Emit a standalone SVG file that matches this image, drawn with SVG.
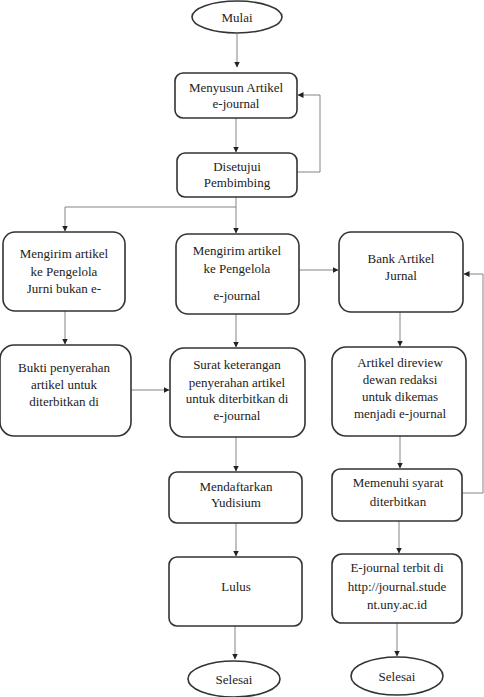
<svg xmlns="http://www.w3.org/2000/svg" width="484" height="697" viewBox="0 0 484 697">
<defs>
<marker id="ah" markerWidth="6" markerHeight="6" refX="5.5" refY="3" orient="auto" markerUnits="userSpaceOnUse">
<path d="M0,0 L6,3 L0,6 Z" fill="#222"/>
</marker>
<style>
.box{fill:#fff;stroke:#333;stroke-width:1.6}
.t{font-family:'Liberation Serif','Times New Roman','DejaVu Serif',serif;font-size:13px;fill:#222;text-anchor:middle}
.c{fill:none;stroke:#777;stroke-width:0.9}
</style>
</defs>
<rect width="484" height="697" fill="#fff"/>
<g id="connectors">
<path class="c" d="M237,34 L237,67" marker-end="url(#ah)"/>
<path class="c" d="M236,118 L236,152" marker-end="url(#ah)"/>
<path class="c" d="M297,172 L320,172 L320,95 L298,95" marker-end="url(#ah)"/>
<path class="c" d="M236,197 L236,233" marker-end="url(#ah)"/>
<path class="c" d="M236,207 L65,207 L65,231" marker-end="url(#ah)"/>
<path class="c" d="M299,270 L338,270" marker-end="url(#ah)"/>
<path class="c" d="M65,311 L65,344" marker-end="url(#ah)"/>
<path class="c" d="M236,314 L236,347" marker-end="url(#ah)"/>
<path class="c" d="M400,312 L400,346" marker-end="url(#ah)"/>
<path class="c" d="M131,390 L169,390" marker-end="url(#ah)"/>
<path class="c" d="M236,437 L236,471" marker-end="url(#ah)"/>
<path class="c" d="M400,436 L400,468" marker-end="url(#ah)"/>
<path class="c" d="M462,493 L483,493 L483,274 L464,274" marker-end="url(#ah)"/>
<path class="c" d="M236,523 L236,556" marker-end="url(#ah)"/>
<path class="c" d="M399,521 L399,553" marker-end="url(#ah)"/>
<path class="c" d="M235,626 L235,659" marker-end="url(#ah)"/>
<path class="c" d="M397,623 L397,656" marker-end="url(#ah)"/>
</g>
<g font-family="Liberation Serif, Times New Roman, serif">
<g id="mulai">
<ellipse class="box" cx="237" cy="17" rx="45" ry="16"/>
<text class="t" x="237" y="22">Mulai</text>
</g>
<g id="menyusun">
<rect class="box" x="175" y="73" width="122" height="45" rx="8"/>
<text class="t" x="236" y="92">Menyusun Artikel</text>
<text class="t" x="236" y="108">e-journal</text>
</g>
<g id="disetujui">
<rect class="box" x="177" y="153" width="120" height="44" rx="8"/>
<text class="t" x="237" y="171">Disetujui</text>
<text class="t" x="237" y="187">Pembimbing</text>
</g>
<g id="mengirim-lain">
<rect class="box" x="3" y="232" width="122" height="79" rx="12"/>
<text class="t" x="64" y="258">Mengirim artikel</text>
<text class="t" x="64" y="276">ke Pengelola</text>
<text class="t" x="64" y="293">Jurni bukan e-</text>
</g>
<g id="mengirim-ejournal">
<rect class="box" x="176" y="234" width="123" height="80" rx="12"/>
<text class="t" x="237" y="255">Mengirim artikel</text>
<text class="t" x="237" y="273">ke Pengelola</text>
<text class="t" x="237" y="300">e-journal</text>
</g>
<g id="bank">
<rect class="box" x="339" y="232" width="124" height="80" rx="12"/>
<text class="t" x="401" y="263">Bank Artikel</text>
<text class="t" x="401" y="280">Jurnal</text>
</g>
<g id="bukti">
<rect class="box" x="0" y="345" width="131" height="91" rx="14"/>
<text class="t" x="64" y="372">Bukti penyerahan</text>
<text class="t" x="64" y="389">artikel untuk</text>
<text class="t" x="64" y="406">diterbitkan di</text>
</g>
<g id="surat">
<rect class="box" x="170" y="348" width="135" height="89" rx="14"/>
<text class="t" x="237" y="369">Surat keterangan</text>
<text class="t" x="237" y="387">penyerahan artikel</text>
<text class="t" x="237" y="403">untuk diterbitkan di</text>
<text class="t" x="237" y="420">e-journal</text>
</g>
<g id="review">
<rect class="box" x="332" y="347" width="134" height="89" rx="14"/>
<text class="t" x="400" y="367">Artikel direview</text>
<text class="t" x="400" y="384">dewan redaksi</text>
<text class="t" x="400" y="401">untuk dikemas</text>
<text class="t" x="400" y="418">menjadi e-journal</text>
</g>
<g id="mendaftarkan">
<rect class="box" x="169" y="472" width="133" height="51" rx="8"/>
<text class="t" x="236" y="491">Mendaftarkan</text>
<text class="t" x="236" y="507">Yudisium</text>
</g>
<g id="memenuhi">
<rect class="box" x="332" y="469" width="130" height="52" rx="8"/>
<text class="t" x="398" y="487">Memenuhi syarat</text>
<text class="t" x="398" y="506">diterbitkan</text>
</g>
<g id="lulus">
<rect class="box" x="169" y="557" width="133" height="69" rx="8"/>
<text class="t" x="236" y="591">Lulus</text>
</g>
<g id="terbit">
<rect class="box" x="332" y="554" width="130" height="69" rx="10"/>
<text class="t" x="397" y="572">E-journal terbit di</text>
<text class="t" x="397" y="591">http://journal.stude</text>
<text class="t" x="397" y="609">nt.uny.ac.id</text>
</g>
<g id="selesai-1">
<ellipse class="box" cx="234" cy="679" rx="46" ry="18"/>
<text class="t" x="234" y="684">Selesai</text>
</g>
<g id="selesai-2">
<ellipse class="box" cx="397" cy="676" rx="46" ry="19"/>
<text class="t" x="397" y="681">Selesai</text>
</g>
</g>
</svg>
